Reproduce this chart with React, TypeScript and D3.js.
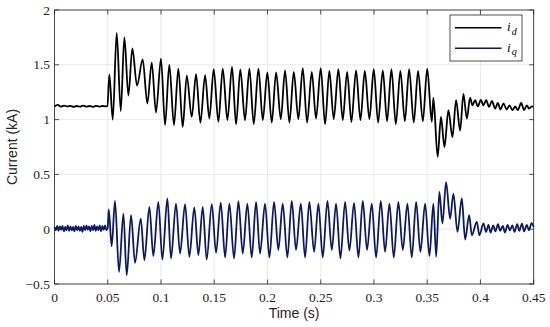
import React from "react";
import * as d3 from "d3";

// axis ticks
const timeTicks = [0, 0.05, 0.1, 0.15, 0.2, 0.25, 0.3, 0.35, 0.4, 0.45];
const timeLabels = ["0", "0.05", "0.1", "0.15", "0.2", "0.25", "0.3", "0.35", "0.4", "0.45"];
const currentTicks = [-0.5, 0, 0.5, 1, 1.5, 2];
const currentLabels = ["\u22120.5", "0", "0.5", "1", "1.5", "2"];

const idPoints: [number, number][] = [
  [0, 1.12], [0.003, 1.135], [0.006, 1.118], [0.009, 1.128], [0.012, 1.12], [0.015, 1.125],
  [0.018, 1.116], [0.021, 1.124], [0.024, 1.118], [0.027, 1.127], [0.03, 1.119], [0.033, 1.124],
  [0.036, 1.117], [0.039, 1.125], [0.042, 1.119], [0.045, 1.124], [0.0485, 1.12], [0.0497, 1.125],
  [0.0515, 1.41], [0.0547, 1.0], [0.0584, 1.79], [0.0622, 1.077], [0.0656, 1.75], [0.0694, 1.22],
  [0.0731, 1.65], [0.0775, 1.31], [0.0828, 1.55], [0.0872, 1.147], [0.0913, 1.52], [0.0953, 1.065],
  [0.1, 1.557], [0.1038, 0.95], [0.1078, 1.5], [0.1122, 0.95], [0.1163, 1.466], [0.1204, 0.933],
  [0.1242, 1.4], [0.1289, 1.025], [0.1329, 1.414], [0.137, 0.97], [0.1414, 1.405], [0.1454, 1.01],
  [0.1495, 1.46], [0.1539, 0.98], [0.158, 1.466], [0.1624, 0.995], [0.1667, 1.48], [0.1705, 0.958],
  [0.1745, 1.457], [0.1789, 0.995], [0.183, 1.466], [0.1871, 0.958], [0.1915, 1.466], [0.1956, 0.995],
  [0.1999, 1.43], [0.204, 0.973], [0.2081, 1.43], [0.2125, 1.004], [0.2165, 1.45], [0.2206, 0.973],
  [0.2247, 1.435], [0.229, 1.004], [0.2331, 1.47], [0.2372, 0.973], [0.2416, 1.435], [0.2456, 1.01],
  [0.25, 1.47], [0.2541, 0.958], [0.2581, 1.445], [0.2622, 1.004], [0.2666, 1.46], [0.2707, 0.995],
  [0.2748, 1.435], [0.2788, 0.979], [0.2832, 1.45], [0.2873, 0.995], [0.2914, 1.445], [0.2957, 1.004],
  [0.2998, 1.46], [0.3039, 0.973], [0.3083, 1.45], [0.3123, 0.985], [0.3164, 1.46], [0.3205, 0.958],
  [0.3248, 1.445], [0.329, 0.985], [0.333, 1.46], [0.3374, 0.973], [0.3414, 1.445], [0.3459, 0.985],
  [0.35, 1.466], [0.3543, 0.98], [0.3558, 1.2], [0.3598, 0.66], [0.3629, 1.025], [0.3662, 0.75],
  [0.3699, 1.086], [0.3737, 0.84], [0.3771, 1.177], [0.3809, 0.9], [0.384, 1.235], [0.3872, 1.01],
  [0.3903, 1.2], [0.3925, 1.13], [0.395, 1.177], [0.3975, 1.12], [0.4003, 1.18], [0.4028, 1.13],
  [0.4053, 1.177], [0.4081, 1.116], [0.4107, 1.17], [0.4138, 1.1], [0.4163, 1.152], [0.4188, 1.092],
  [0.4216, 1.147], [0.4247, 1.092], [0.4272, 1.13], [0.43, 1.086], [0.4326, 1.12], [0.4351, 1.086],
  [0.4382, 1.152], [0.441, 1.086], [0.4435, 1.13], [0.4457, 1.1], [0.4483, 1.12], [0.45, 1.116],
];

// i_q
const iqPoints: [number, number][] = [
  [0, 0.02], [0.00125, -0.01], [0.0025, 0.03], [0.00375, -0.015], [0.005, 0.025], [0.00625, -0.005],
  [0.0075, 0.03], [0.00875, -0.02], [0.01, 0.02], [0.01125, -0.01], [0.0125, 0.035], [0.01375, -0.015],
  [0.015, 0.025], [0.01625, -0.01], [0.0175, 0.02], [0.01875, -0.02], [0.02, 0.03], [0.02125, -0.01],
  [0.0225, 0.025], [0.02375, -0.015], [0.025, 0.02], [0.02625, -0.025], [0.0275, 0.03], [0.02875, -0.01],
  [0.03, 0.035], [0.03125, -0.005], [0.0325, 0.025], [0.03375, -0.02], [0.035, 0.03], [0.03625, -0.01],
  [0.0375, 0.04], [0.03875, -0.015], [0.04, 0.025], [0.04125, -0.01], [0.0425, 0.035], [0.04375, -0.02],
  [0.045, 0.03], [0.04625, -0.005], [0.0475, 0.035], [0.04875, -0.01], [0.05, 0.01],
  [0.0509, 0.18], [0.0537, -0.155], [0.0568, 0.258], [0.0606, -0.39], [0.0647, 0.143], [0.0678, -0.42],
  [0.0719, 0.128], [0.0756, -0.307], [0.081, 0.097], [0.0844, -0.283], [0.0891, 0.203], [0.0928, -0.246],
  [0.0975, 0.249], [0.1013, -0.277], [0.106, 0.28], [0.1094, -0.267], [0.1141, 0.234], [0.1179, -0.222],
  [0.1226, 0.228], [0.1266, -0.252], [0.1313, 0.198], [0.1351, -0.237], [0.1392, 0.203], [0.1429, -0.277],
  [0.1477, 0.228], [0.1517, -0.216], [0.1561, 0.243], [0.1602, -0.258], [0.1642, 0.234], [0.1686, -0.267],
  [0.1727, 0.255], [0.1768, -0.222], [0.1811, 0.234], [0.1852, -0.258], [0.1893, 0.249], [0.193, -0.222],
  [0.1977, 0.234], [0.2018, -0.258], [0.2062, 0.249], [0.2102, -0.19], [0.2143, 0.234], [0.2187, -0.258],
  [0.2228, 0.258], [0.2268, -0.19], [0.2313, 0.234], [0.2353, -0.258], [0.2393, 0.249], [0.2438, -0.207],
  [0.2478, 0.234], [0.2519, -0.258], [0.2563, 0.258], [0.2604, -0.19], [0.2644, 0.234], [0.2685, -0.267],
  [0.2729, 0.249], [0.2769, -0.196], [0.2813, 0.24], [0.2854, -0.258], [0.2895, 0.258], [0.2935, -0.19],
  [0.2979, 0.234], [0.302, -0.258], [0.3064, 0.258], [0.3104, -0.207], [0.3145, 0.234], [0.3186, -0.258],
  [0.3229, 0.249], [0.3271, -0.19], [0.3314, 0.234], [0.3355, -0.258], [0.3396, 0.249], [0.3436, -0.207],
  [0.348, 0.234], [0.3521, -0.245], [0.3558, 0.234], [0.3584, -0.25], [0.3614, 0.34], [0.3643, 0.052],
  [0.3677, 0.43], [0.3715, 0.097], [0.3746, 0.325], [0.3784, -0.025], [0.3825, 0.28], [0.3856, -0.094],
  [0.3894, 0.128], [0.3919, -0.055], [0.3966, 0.067], [0.399, -0.055], [0.4028, 0.052], [0.4053, -0.025],
  [0.4075, 0.04], [0.4095, -0.03], [0.412, 0.035], [0.414, -0.02], [0.4165, 0.045], [0.4185, -0.015],
  [0.421, 0.03], [0.423, -0.03], [0.4255, 0.04], [0.4275, -0.01], [0.43, 0.035], [0.432, -0.025],
  [0.4345, 0.045], [0.4365, -0.015], [0.439, 0.05], [0.441, -0.02], [0.4435, 0.04], [0.4455, -0.01],
  [0.448, 0.055], [0.45, 0.02],
];

const width = 550;
const height = 327;
const margin = { left: 54.5, right: 16.3, top: 10, bottom: 43 };
const axisColor = "#262626";
const gridColor = "#e4e4e4";
const idColor = "#000";
const iqColor = "#0a1868";
const serif = "'Liberation Serif', 'DejaVu Serif', serif";
const sans = "'Liberation Sans', Arial, sans-serif";

export default function App() {
  const x = d3.scaleLinear().domain([0, 0.45]).range([margin.left, width - margin.right]);
  const y = d3.scaleLinear().domain([-0.5, 2]).range([height - margin.bottom, margin.top]);
  const line = d3
    .line<[number, number]>()
    .x((d) => x(d[0]))
    .y((d) => y(d[1]))
    .curve(d3.curveMonotoneX);

  const [x0, x1] = x.range();
  const [y0, y1] = y.range();
  const tickLen = 4.5;

  return (
    <svg
      width={width}
      height={height}
      style={{ position: "absolute", left: 0, top: 0, background: "#fff" }}
    >
      {/* grid */}
      {timeTicks.map((t) => (
        <line key={"gx" + t} x1={x(t)} x2={x(t)} y1={y1} y2={y0} stroke={gridColor} strokeWidth={0.8} />
      ))}
      {currentTicks.map((v) => (
        <line key={"gy" + v} x1={x0} x2={x1} y1={y(v)} y2={y(v)} stroke={gridColor} strokeWidth={0.8} />
      ))}

      {/* series */}
      <path d={line(iqPoints) ?? ""} fill="none" stroke={iqColor} strokeWidth={1.8} strokeLinejoin="round" />
      <path d={line(idPoints) ?? ""} fill="none" stroke={idColor} strokeWidth={1.8} strokeLinejoin="round" />

      {/* box and ticks */}
      <rect x={x0} y={y1} width={x1 - x0} height={y0 - y1} fill="none" stroke={axisColor} strokeWidth={0.8} />
      {timeTicks.map((t) => (
        <g key={"tx" + t}>
          <line x1={x(t)} x2={x(t)} y1={y0} y2={y0 - tickLen} stroke={axisColor} strokeWidth={0.8} />
          <line x1={x(t)} x2={x(t)} y1={y1} y2={y1 + tickLen} stroke={axisColor} strokeWidth={0.8} />
        </g>
      ))}
      {currentTicks.map((v) => (
        <g key={"ty" + v}>
          <line x1={x0} x2={x0 + tickLen} y1={y(v)} y2={y(v)} stroke={axisColor} strokeWidth={0.8} />
          <line x1={x1} x2={x1 - tickLen} y1={y(v)} y2={y(v)} stroke={axisColor} strokeWidth={0.8} />
        </g>
      ))}

      {/* tick labels */}
      {timeTicks.map((t, i) => (
        <text key={"lx" + t} x={x(t)} y={301.5} textAnchor="middle" fontFamily={serif} fontSize={13.5} fill={axisColor}>
          {timeLabels[i]}
        </text>
      ))}
      {currentTicks.map((v, i) => (
        <text key={"ly" + v} x={50} y={y(v) + 4.5} textAnchor="end" fontFamily={serif} fontSize={13.5} fill={axisColor}>
          {currentLabels[i]}
        </text>
      ))}

      {/* axis titles */}
      <text x={(x0 + x1) / 2} y={318} textAnchor="middle" fontFamily={sans} fontSize={14} fill={axisColor}>
        Time (s)
      </text>
      <text
        transform={`translate(16.5, ${(y0 + y1) / 2}) rotate(-90)`}
        textAnchor="middle"
        fontFamily={sans}
        fontSize={14}
        fill={axisColor}
      >
        Current (kA)
      </text>

      {/* legend */}
      <rect x={450} y={15} width={72} height={46} fill="#fff" stroke={axisColor} strokeWidth={0.8} />
      <line x1={455} x2={501.5} y1={27.7} y2={27.7} stroke={idColor} strokeWidth={1.6} />
      <line x1={455} x2={501.5} y1={48.3} y2={48.3} stroke={iqColor} strokeWidth={1.6} />
      <text x={507} y={31} fontFamily={serif} fontStyle="italic" fontSize={13} fill="#000">
        i<tspan dx={1} dy={3.5} fontSize={10}>d</tspan>
      </text>
      <text x={507} y={51.5} fontFamily={serif} fontStyle="italic" fontSize={13} fill="#000">
        i<tspan dx={1} dy={3.5} fontSize={10}>q</tspan>
      </text>
    </svg>
  );
}
